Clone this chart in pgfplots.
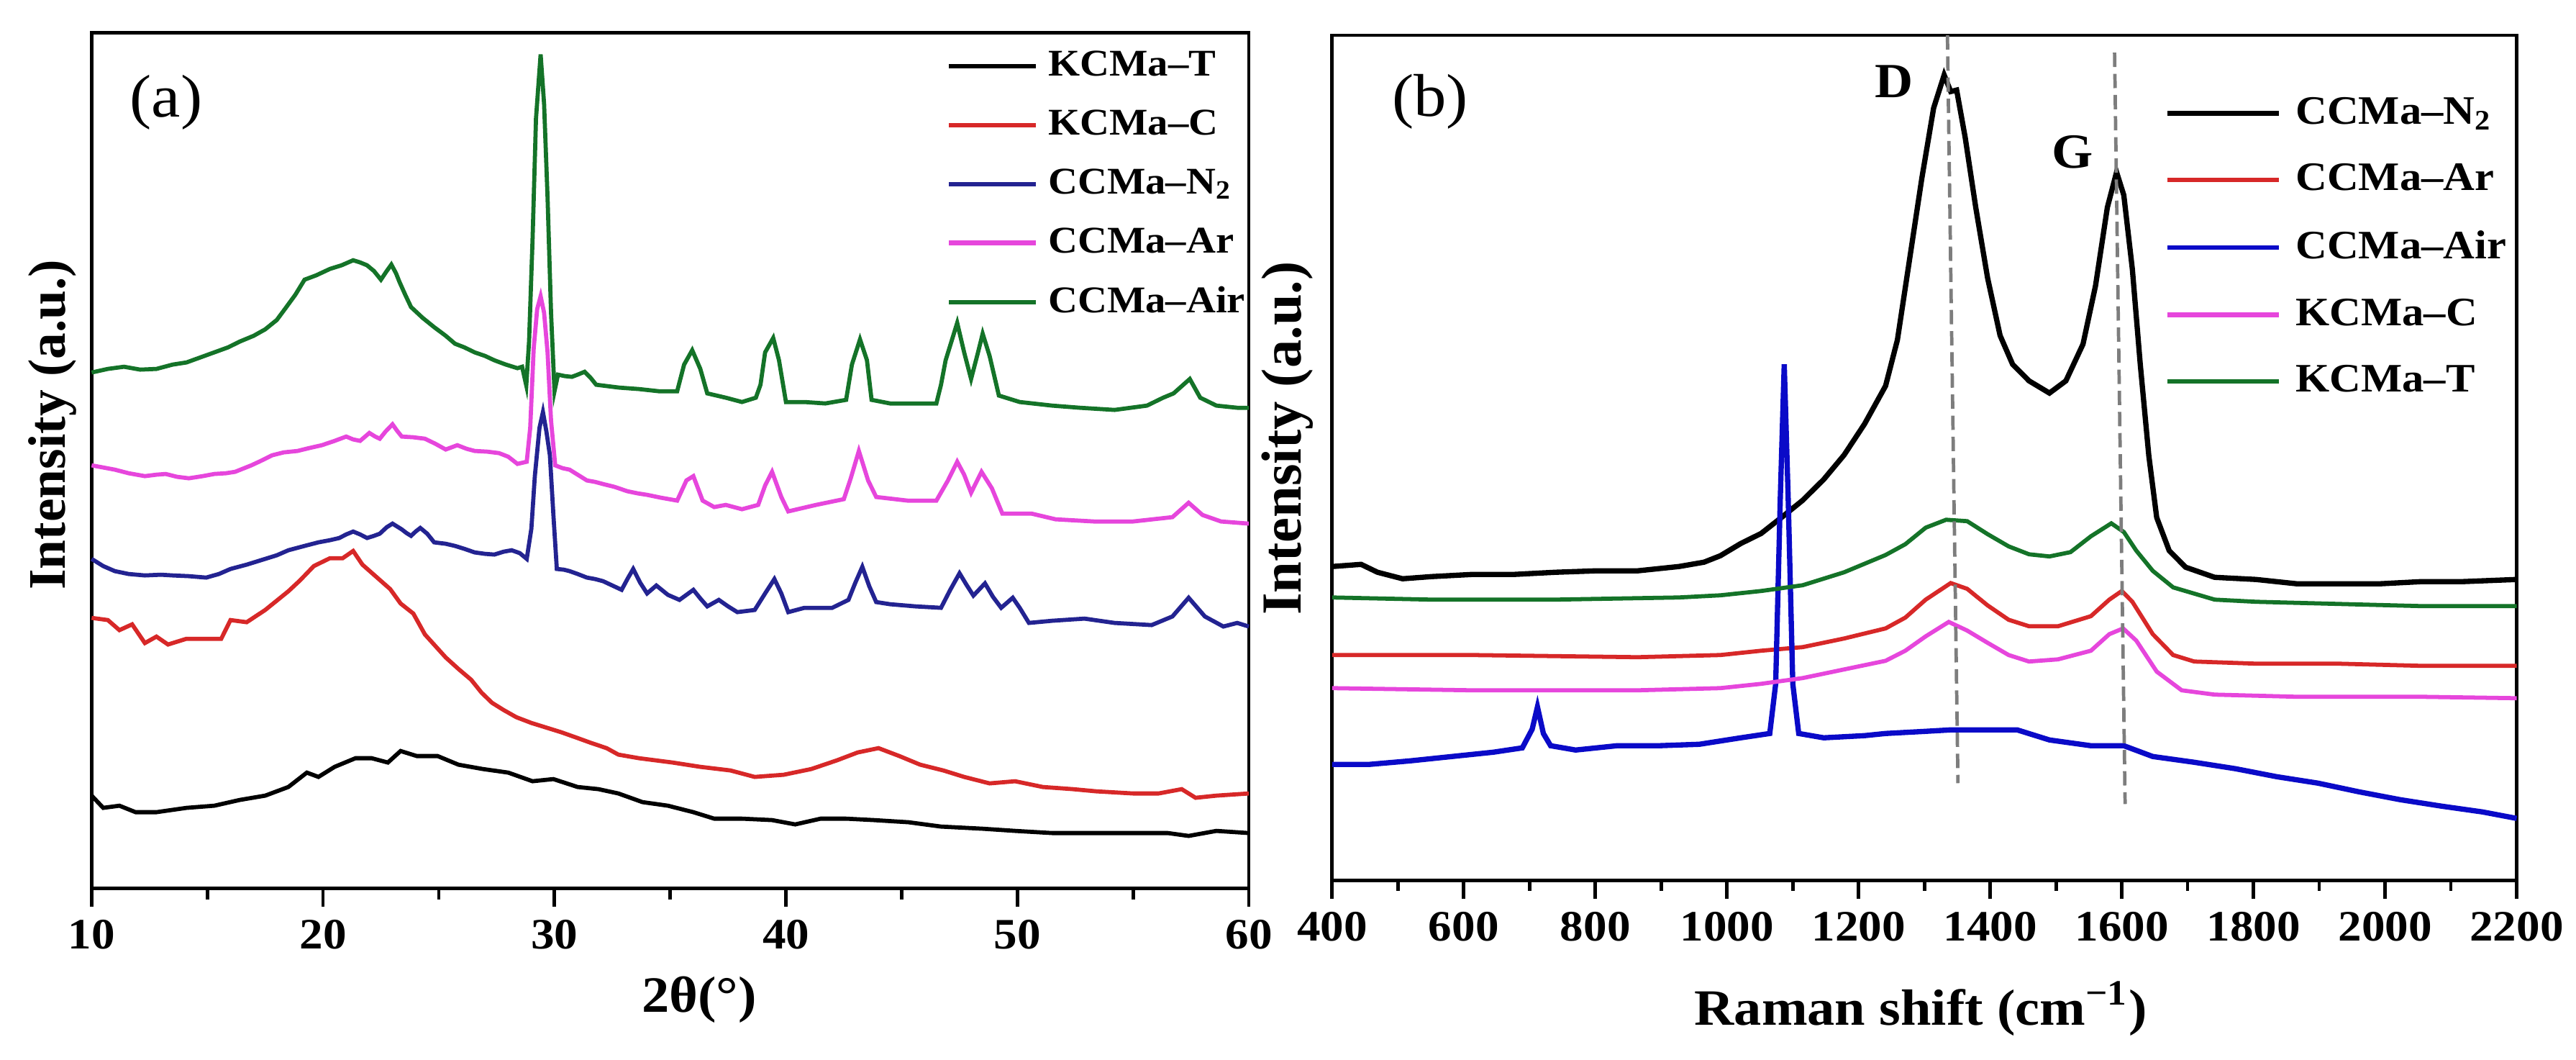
\documentclass[border=0pt]{standalone}
\usepackage{fontspec}
\setmainfont{Liberation Serif}[FakeStretch=1.08]
\newfontfamily\ylabfont{Liberation Serif}
\usepackage{pgfplots}
\pgfplotsset{compat=1.18}

\definecolor{cred}{RGB}{215,40,40}
\definecolor{cnavy}{RGB}{35,35,145}
\definecolor{cblue}{RGB}{10,10,200}
\definecolor{cmag}{RGB}{230,70,220}
\definecolor{cgreen}{RGB}{20,115,40}
\definecolor{cdash}{RGB}{125,125,125}

\pgfplotsset{
  common/.style={
    scale only axis,
    anchor=south west,
    axis line style={line width=0.9pt},
    tick align=outside,
    xtick pos=left,
    ytick=\empty,
    major tick length=0.17cm,
    minor tick length=0.10cm,
    every tick/.style={line width=0.9pt, black},
    /pgf/number format/assume math mode=true,
    /pgf/number format/1000 sep={},
    xticklabel style={font=\fontsize{11.5}{13}\selectfont\bfseries},
    legend cell align=left,
    clip=false,
  },
}

\begin{document}
\begin{tikzpicture}
\useasboundingbox (0,0) rectangle (24cm,9.8654cm);

%% ---------------- (a) XRD ----------------
\begin{axis}[common,
  at={(0.8538cm,1.591cm)},
  width=10.781cm, height=7.969cm,
  xmin=10, xmax=60, ymin=0, ymax=1189.1,
  xtick={10,20,...,60}, minor x tick num=1,
  xlabel={2θ(°)},
  every axis x label/.style={at={(axis description cs:0.525,0)}, yshift=-1.155cm, anchor=base, font=\fontsize{13.5}{16}\selectfont\bfseries},
  ylabel={Intensity (a.u.)},
  every axis y label/.style={at={(axis description cs:-0.0338,0.542)}, rotate=90, anchor=center, font=\fontsize{14}{16}\selectfont\ylabfont\bfseries},
  legend style={at={(0.739,0.979)}, anchor=north west, draw=none, fill=none, inner sep=0pt, outer sep=0pt,
    row sep=7.5pt, font=\fontsize{10}{12}\selectfont\bfseries, nodes={inner sep=0pt},
    /tikz/every odd column/.style={column sep=0.094cm}},
  legend image code/.code={\draw[#1, line width=1.2pt] (0cm,0cm) -- (0.81cm,0cm);},
]
\addplot[black, line width=1.1pt] coordinates {
(10,129)(10.5,112)(11.2,115)(11.9,106)(12.8,106)(14.1,112)(15.3,115)(16.4,123)(17.5,129)(18.5,141)(19.3,161)(19.8,155)(20.5,169)(21.4,181)(22.1,181)(22.8,175)(23.35,191)(24.05,184)(24.95,184)(25.85,172)(26.9,166)(28.0,161)(29.05,149)(29.95,152)(31.0,141)(31.9,138)(32.76,132)(33.8,120)(34.9,115)(36.0,106)(36.9,97)(38.1,97)(39.4,95)(40.4,89)(41.5,97)(42.6,97)(43.8,95)(45.3,92)(46.7,86)(48.5,83)(49.9,80)(51.5,77)(53.3,77)(55.0,77)(56.5,77)(57.4,73)(58.6,80)(60,77)};
\addlegendentry{KCMa--T}
\addplot[cred, line width=1.1pt] coordinates {
(10,376)(10.7,373)(11.2,359)(11.75,367)(12.3,341)(12.8,350)(13.3,339)(14.1,347)(14.95,347)(15.6,347)(16.0,373)(16.7,370)(17.5,387)(18.0,400)(18.5,413)(19.0,428)(19.6,448)(20.3,459)(20.85,459)(21.3,469)(21.7,450)(22.3,433)(22.9,416)(23.35,396)(23.9,382)(24.4,353)(24.85,337)(25.3,321)(25.85,305)(26.4,290)(26.85,272)(27.3,258)(27.8,248)(28.35,238)(29.0,230)(29.6,224)(30.3,217)(31.0,209)(31.6,202)(32.25,195)(32.76,186)(33.65,181)(35.1,175)(36.3,169)(37.6,164)(38.65,155)(39.9,158)(41.1,166)(42.2,178)(43.1,189)(44.0,195)(44.9,184)(45.8,172)(46.8,164)(47.7,155)(48.8,146)(49.9,149)(51.1,141)(52.4,138)(53.4,135)(55.0,132)(56.1,132)(57.1,138)(57.7,126)(58.6,129)(60,132)};
\addlegendentry{KCMa--C}
\addplot[cnavy, line width=1.1pt] coordinates {
(10,458)(10.5,448)(11.0,441)(11.6,437)(12.3,435)(13.0,436)(13.5,435)(14.2,434)(14.95,432)(15.5,437)(16.0,444)(16.7,450)(17.5,458)(18.0,463)(18.5,470)(19.2,476)(19.8,481)(20.3,484)(20.7,487)(21.0,492)(21.3,496)(21.6,492)(21.9,487)(22.2,490)(22.45,493)(22.75,502)(23.0,507)(23.2,503)(23.4,499)(23.6,494)(23.8,490)(24.0,496)(24.2,501)(24.5,493)(24.8,481)(25.3,479)(25.7,476)(26.1,472)(26.55,467)(27.0,465)(27.4,464)(27.8,468)(28.15,470)(28.5,466)(28.8,458)(29.0,500)(29.15,573)(29.35,640)(29.5,662)(29.65,635)(29.8,602)(29.95,520)(30.1,444)(30.4,443)(30.65,441)(31.0,437)(31.4,432)(31.75,430)(32.1,427)(32.5,421)(32.9,415)(33.15,430)(33.4,444)(33.7,425)(34.0,410)(34.4,421)(34.9,408)(35.4,401)(35.7,408)(36.0,415)(36.3,403)(36.6,392)(37.1,401)(37.5,392)(37.9,384)(38.65,387)(39.1,410)(39.5,430)(39.8,410)(40.1,384)(40.8,390)(42.0,390)(42.7,401)(43.0,425)(43.3,447)(43.6,420)(43.9,398)(44.5,395)(45.6,392)(46.7,390)(47.1,415)(47.5,438)(47.8,422)(48.1,407)(48.6,424)(48.95,405)(49.3,390)(49.8,404)(50.1,390)(50.5,369)(51.5,372)(52.9,375)(54.2,369)(55.8,366)(56.7,378)(57.4,404)(58.1,378)(58.9,364)(59.5,369)(60,364)};
\addlegendentry{CCMa--N\textsubscript{2}}
\addplot[cmag, line width=1.1pt] coordinates {
(10,588)(10.5,585)(11.0,582)(11.6,577)(12.3,573)(12.8,575)(13.2,576)(13.7,572)(14.2,570)(14.8,573)(15.3,576)(15.8,577)(16.2,579)(16.9,588)(17.3,594)(17.8,602)(18.3,606)(18.9,608)(19.4,612)(19.95,616)(20.5,622)(21.0,628)(21.3,624)(21.6,622)(22.0,633)(22.25,628)(22.45,625)(22.7,635)(23.0,645)(23.2,636)(23.4,628)(23.9,627)(24.4,625)(24.85,618)(25.3,610)(25.8,616)(26.2,611)(26.55,608)(27.1,607)(27.6,605)(28.0,600)(28.4,590)(28.8,593)(28.95,640)(29.1,750)(29.25,805)(29.4,823)(29.55,800)(29.7,745)(29.85,650)(30.03,588)(30.35,584)(30.65,582)(31.0,575)(31.4,567)(31.75,565)(32.1,562)(32.6,558)(33.15,552)(33.6,549)(34.0,547)(34.6,543)(35.3,539)(35.7,567)(36.0,573)(36.4,539)(36.9,530)(37.4,533)(38.1,527)(38.8,533)(39.1,560)(39.4,579)(39.8,544)(40.1,524)(41.3,533)(42.5,541)(42.8,570)(43.15,608)(43.55,567)(43.9,544)(45.25,539)(46.5,539)(47.0,567)(47.4,593)(47.7,575)(48.0,550)(48.45,579)(48.9,556)(49.35,521)(50.6,521)(51.65,513)(53.3,510)(55.0,510)(56.7,516)(57.4,536)(58.0,519)(58.8,510)(60,507)};
\addlegendentry{CCMa--Ar}
\addplot[cgreen, line width=1.1pt] coordinates {
(10,717)(10.7,722)(11.4,725)(12.1,721)(12.8,722)(13.5,728)(14.1,731)(14.7,738)(15.3,745)(15.9,752)(16.4,760)(17.0,768)(17.5,777)(18.0,790)(18.3,803)(18.8,825)(19.2,846)(19.7,852)(20.3,861)(20.8,866)(21.3,873)(21.6,870)(21.9,866)(22.2,858)(22.5,846)(22.75,858)(22.95,867)(23.15,855)(23.3,843)(23.55,825)(23.8,808)(24.3,793)(24.8,780)(25.3,768)(25.7,757)(26.1,752)(26.55,745)(27.0,740)(27.4,734)(27.9,728)(28.4,723)(28.6,725)(28.78,699)(28.9,760)(29.05,900)(29.2,1070)(29.4,1159)(29.55,1090)(29.7,960)(29.85,800)(30.0,691)(30.15,714)(30.45,712)(30.75,711)(31.0,714)(31.3,718)(31.55,710)(31.8,700)(32.3,698)(32.8,696)(33.65,694)(34.5,691)(35.3,691)(35.6,728)(35.95,748)(36.3,722)(36.6,688)(37.4,682)(38.1,676)(38.7,682)(38.9,700)(39.1,745)(39.45,765)(39.7,734)(40.0,676)(40.8,676)(41.7,674)(42.6,679)(42.85,728)(43.2,763)(43.5,734)(43.7,679)(44.5,674)(45.6,674)(46.5,674)(46.7,700)(46.9,734)(47.4,786)(47.7,745)(48.0,708)(48.3,745)(48.5,771)(48.8,740)(49.2,685)(50.1,676)(51.5,671)(52.7,668)(54.2,665)(55.6,671)(56.3,682)(56.75,688)(57.45,708)(57.9,682)(58.6,671)(59.5,668)(60,668)};
\addlegendentry{CCMa--Air}
\node[font=\fontsize{16}{18}\selectfont] at (axis description cs:0.0644,0.919) {(a)};
\end{axis}

%% ---------------- (b) Raman ----------------
\begin{axis}[common,
  at={(12.411cm,1.667cm)},
  width=11.036cm, height=7.870cm,
  xmin=400, xmax=2200, ymin=0, ymax=1174.2,
  xtick={400,600,...,2200}, minor x tick num=1,
  xlabel={Raman shift (cm\textsuperscript{−1})},
  every axis x label/.style={at={(axis description cs:0.4969,0)}, yshift=-1.346cm, anchor=base, font=\fontsize{13.5}{16}\selectfont\bfseries},
  ylabel={Intensity (a.u.)},
  every axis y label/.style={at={(axis description cs:-0.0376,0.523)}, rotate=90, anchor=center, font=\fontsize{15}{17}\selectfont\ylabfont\bfseries},
  legend style={at={(0.7033,0.9268)}, anchor=north west, draw=none, fill=none, inner sep=0pt, outer sep=0pt,
    row sep=9.1pt, font=\fontsize{10.7}{12.5}\selectfont\bfseries, nodes={inner sep=0pt},
    /tikz/every odd column/.style={column sep=0.134cm}},
  legend image code/.code={\draw[#1, line width=1.2pt] (0cm,0cm) -- (1.04cm,0cm);},
]
\addplot[black, line width=1.4pt] coordinates {
(400,436)(444,439)(469,428)(507,419)(551,422)(613,425)(676,425)(739,428)(801,430)(864,430)(927,436)(965,442)(990,451)(1021,468)(1052,482)(1084,505)(1115,528)(1147,557)(1178,591)(1209,634)(1241,687)(1259,751)(1277,860)(1296,975)(1314,1073)(1330,1119)(1340,1096)(1349,1098)(1362,1032)(1378,935)(1396,837)(1415,757)(1434,717)(1459,694)(1490,677)(1515,694)(1541,745)(1560,826)(1578,935)(1592,984)(1603,952)(1616,849)(1628,717)(1641,590)(1653,504)(1672,458)(1697,435)(1741,421)(1804,418)(1866,412)(1929,412)(1992,412)(2055,415)(2117,415)(2200,418)};
\addlegendentry{CCMa--N\textsubscript{2}}
\addplot[cred, line width=1.1pt] coordinates {
(400,313)(613,313)(864,310)(990,313)(1052,319)(1115,324)(1178,336)(1241,350)(1271,365)(1302,390)(1340,413)(1365,405)(1396,382)(1428,362)(1459,353)(1503,353)(1553,367)(1581,390)(1600,402)(1616,387)(1647,342)(1678,313)(1710,304)(1804,301)(1929,301)(2055,298)(2200,298)};
\addlegendentry{CCMa--Ar}
\addplot[cblue, line width=1.4pt] coordinates {
(400,161)(456,161)(519,166)(582,172)(645,178)(689,184)(704,210)(712,241)(721,204)(732,187)(770,181)(833,187)(896,187)(958,189)(1021,198)(1065,204)(1074,273)(1081,531)(1087,717)(1093,531)(1100,273)(1109,204)(1147,198)(1209,201)(1241,204)(1302,207)(1340,209)(1378,209)(1441,209)(1490,195)(1553,187)(1603,187)(1647,172)(1710,164)(1773,155)(1835,144)(1898,135)(1960,123)(2023,112)(2086,103)(2148,95)(2200,86)};
\addlegendentry{CCMa--Air}
\addplot[cmag, line width=1.1pt] coordinates {
(400,267)(613,264)(864,264)(990,267)(1052,273)(1115,281)(1178,293)(1241,305)(1271,319)(1302,339)(1337,359)(1365,347)(1396,330)(1428,313)(1459,304)(1503,307)(1553,319)(1581,342)(1602,350)(1622,333)(1653,290)(1691,264)(1741,258)(1866,255)(2055,255)(2200,253)};
\addlegendentry{KCMa--C}
\addplot[cgreen, line width=1.1pt] coordinates {
(400,393)(551,390)(739,390)(927,393)(990,396)(1052,402)(1115,410)(1178,428)(1241,452)(1271,467)(1302,490)(1333,501)(1365,499)(1396,481)(1428,464)(1459,453)(1490,450)(1522,456)(1553,478)(1584,496)(1603,484)(1622,458)(1647,430)(1678,407)(1741,390)(1804,387)(1929,384)(2055,381)(2200,381)};
\addlegendentry{KCMa--T}
\addplot[cdash, dashed, line width=0.9pt, dash pattern=on 3.8pt off 1.8pt, forget plot] coordinates {(1335,1174.2)(1351,135)};
\addplot[cdash, dashed, line width=0.9pt, dash pattern=on 3.8pt off 1.8pt, forget plot] coordinates {(1589,1150)(1605,106)};
\node[font=\fontsize{16}{18}\selectfont] at (axis description cs:0.0827,0.921) {(b)};
\node[font=\fontsize{13}{15}\selectfont\bfseries] at (axis cs:1254,1110) {D};
\node[font=\fontsize{13}{15}\selectfont\bfseries] at (axis cs:1525,1012) {G};
\end{axis}
\end{tikzpicture}
\end{document}
